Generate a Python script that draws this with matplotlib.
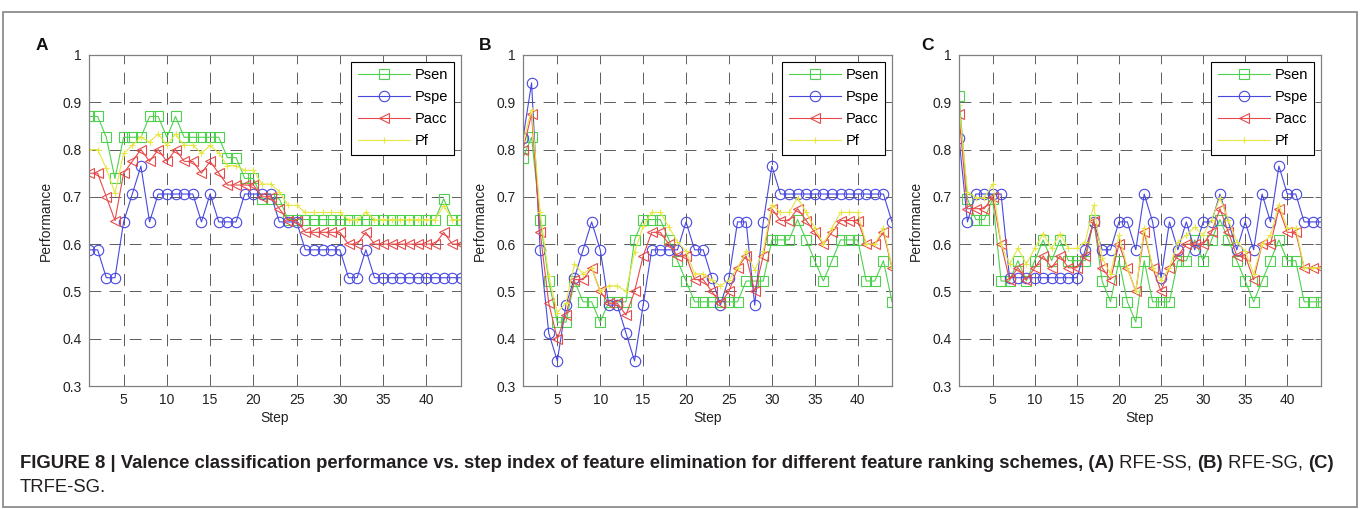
import matplotlib
matplotlib.use('Agg')
import matplotlib.pyplot as plt
from matplotlib.patches import Rectangle
from matplotlib import font_manager

# step index of feature elimination
steps = list(range(1, 45))

# (A) RFE-SS
psen_a = [0.870, 0.870, 0.826, 0.739, 0.826, 0.826, 0.826, 0.870, 0.870, 0.826,
          0.870, 0.826, 0.826, 0.826, 0.826, 0.826, 0.783, 0.783, 0.739, 0.739,
          0.696, 0.696, 0.696, 0.652, 0.652, 0.652, 0.652, 0.652, 0.652, 0.652,
          0.652, 0.652, 0.652, 0.652, 0.652, 0.652, 0.652, 0.652, 0.652, 0.652,
          0.652, 0.696, 0.652, 0.652]
pspe_a = [0.588, 0.588, 0.529, 0.529, 0.647, 0.706, 0.765, 0.647, 0.706, 0.706,
          0.706, 0.706, 0.706, 0.647, 0.706, 0.647, 0.647, 0.647, 0.706, 0.706,
          0.706, 0.706, 0.647, 0.647, 0.647, 0.588, 0.588, 0.588, 0.588, 0.588,
          0.529, 0.529, 0.588, 0.529, 0.529, 0.529, 0.529, 0.529, 0.529, 0.529,
          0.529, 0.529, 0.529, 0.529]
pacc_a = [0.750, 0.750, 0.700, 0.650, 0.750, 0.775, 0.800, 0.775, 0.800, 0.775,
          0.800, 0.775, 0.775, 0.750, 0.775, 0.750, 0.725, 0.725, 0.725, 0.725,
          0.700, 0.700, 0.675, 0.650, 0.650, 0.625, 0.625, 0.625, 0.625, 0.625,
          0.600, 0.600, 0.625, 0.600, 0.600, 0.600, 0.600, 0.600, 0.600, 0.600,
          0.600, 0.625, 0.600, 0.600]
pf_a = [0.800, 0.800, 0.760, 0.708, 0.792, 0.809, 0.826, 0.816, 0.833, 0.809,
        0.833, 0.809, 0.809, 0.792, 0.809, 0.792, 0.766, 0.766, 0.756, 0.756,
        0.727, 0.727, 0.711, 0.682, 0.682, 0.667, 0.667, 0.667, 0.667, 0.667,
        0.652, 0.652, 0.667, 0.652, 0.652, 0.652, 0.652, 0.652, 0.652, 0.652,
        0.652, 0.681, 0.652, 0.652]

# (B) RFE-SG
psen_b = [0.783, 0.826, 0.652, 0.522, 0.435, 0.435, 0.522, 0.478, 0.478, 0.435,
          0.478, 0.478, 0.478, 0.609, 0.652, 0.652, 0.652, 0.609, 0.565, 0.522,
          0.478, 0.478, 0.478, 0.478, 0.478, 0.478, 0.522, 0.522, 0.522, 0.609,
          0.609, 0.609, 0.652, 0.609, 0.565, 0.522, 0.565, 0.609, 0.609, 0.609,
          0.522, 0.522, 0.565, 0.478]
pspe_b = [0.824, 0.941, 0.588, 0.412, 0.353, 0.471, 0.529, 0.588, 0.647, 0.588,
          0.471, 0.471, 0.412, 0.353, 0.471, 0.588, 0.588, 0.588, 0.588, 0.647,
          0.588, 0.588, 0.529, 0.471, 0.529, 0.647, 0.647, 0.471, 0.647, 0.765,
          0.706, 0.706, 0.706, 0.706, 0.706, 0.706, 0.706, 0.706, 0.706, 0.706,
          0.706, 0.706, 0.706, 0.647]
pacc_b = [0.800, 0.875, 0.625, 0.475, 0.400, 0.450, 0.525, 0.525, 0.550, 0.500,
          0.475, 0.475, 0.450, 0.500, 0.575, 0.625, 0.625, 0.600, 0.575, 0.575,
          0.525, 0.525, 0.500, 0.475, 0.500, 0.550, 0.575, 0.500, 0.575, 0.675,
          0.650, 0.650, 0.675, 0.650, 0.625, 0.600, 0.625, 0.650, 0.650, 0.650,
          0.600, 0.600, 0.625, 0.550]
pf_b = [0.818, 0.884, 0.667, 0.533, 0.455, 0.476, 0.558, 0.537, 0.550, 0.500,
        0.512, 0.512, 0.500, 0.583, 0.638, 0.667, 0.667, 0.636, 0.605, 0.585,
        0.537, 0.537, 0.524, 0.512, 0.524, 0.550, 0.585, 0.545, 0.585, 0.683,
        0.667, 0.667, 0.698, 0.667, 0.634, 0.600, 0.634, 0.667, 0.667, 0.667,
        0.600, 0.600, 0.634, 0.550]

# (C) TRFE-SG
psen_c = [0.913, 0.696, 0.652, 0.652, 0.696, 0.522, 0.522, 0.565, 0.522, 0.565,
          0.609, 0.565, 0.609, 0.565, 0.565, 0.565, 0.652, 0.522, 0.478, 0.565,
          0.478, 0.435, 0.565, 0.478, 0.478, 0.478, 0.565, 0.565, 0.609, 0.565,
          0.609, 0.652, 0.609, 0.565, 0.522, 0.478, 0.522, 0.565, 0.609, 0.565,
          0.565, 0.478, 0.478, 0.478]
pspe_c = [0.824, 0.647, 0.706, 0.706, 0.706, 0.706, 0.529, 0.529, 0.529, 0.529,
          0.529, 0.529, 0.529, 0.529, 0.529, 0.588, 0.647, 0.588, 0.588, 0.647,
          0.647, 0.588, 0.706, 0.647, 0.529, 0.647, 0.588, 0.647, 0.588, 0.647,
          0.647, 0.706, 0.647, 0.588, 0.647, 0.588, 0.706, 0.647, 0.765, 0.706,
          0.706, 0.647, 0.647, 0.647]
pacc_c = [0.875, 0.675, 0.675, 0.675, 0.700, 0.600, 0.525, 0.550, 0.525, 0.550,
          0.575, 0.550, 0.575, 0.550, 0.550, 0.575, 0.650, 0.550, 0.525, 0.600,
          0.550, 0.500, 0.625, 0.550, 0.500, 0.550, 0.575, 0.600, 0.600, 0.600,
          0.625, 0.675, 0.625, 0.575, 0.575, 0.525, 0.600, 0.600, 0.675, 0.625,
          0.625, 0.550, 0.550, 0.550]
pf_c = [0.894, 0.711, 0.698, 0.698, 0.727, 0.600, 0.558, 0.591, 0.558, 0.591,
        0.622, 0.591, 0.622, 0.591, 0.591, 0.605, 0.682, 0.571, 0.537, 0.619,
        0.550, 0.500, 0.634, 0.550, 0.524, 0.550, 0.605, 0.619, 0.636, 0.619,
        0.651, 0.698, 0.651, 0.605, 0.585, 0.537, 0.600, 0.619, 0.683, 0.634,
        0.634, 0.550, 0.550, 0.550]

W, H = 1360, 509
names = [f.name for f in font_manager.fontManager.ttflist]
narrow = 'Liberation Sans Narrow' if 'Liberation Sans Narrow' in names else 'Liberation Sans'
plt.rcParams['font.family'] = ['Liberation Sans', 'DejaVu Sans']
plt.rcParams['lines.scale_dashes'] = False


def fx(px):
    return px / W


def fy(py):
    return 1 - py / H


fig = plt.figure(figsize=(W / 100, H / 100), dpi=100)
fig.patch.set_facecolor('white')

# gray frame round the whole figure
fig.patches.append(Rectangle((fx(3), fy(507)), fx(1354), (507 - 12) / H,
                             transform=fig.transFigure, fill=False,
                             edgecolor='#8c8c8c', linewidth=1.3))

panels = [
    ('A', 89, 461, 42, psen_a, pspe_a, pacc_a, pf_a),
    ('B', 523, 892, 485, psen_b, pspe_b, pacc_b, pf_b),
    ('C', 959, 1321, 928, psen_c, pspe_c, pacc_c, pf_c),
]

top, bottom = 55, 386
for letter, left, right, lx, psen, pspe, pacc, pf in panels:
    ax = fig.add_axes([fx(left), fy(bottom), (right - left) / W, (bottom - top) / H])
    ax.plot(steps, psen, color='#4ed24e', marker='s', mfc='none', ms=7, mew=0.8, lw=0.8, label='Psen')
    ax.plot(steps, pspe, color='#4848e0', marker='o', mfc='none', ms=7.5, mew=0.8, lw=0.8, label='Pspe')
    ax.plot(steps, pacc, color='#e84a4a', marker='<', mfc='none', ms=7.5, mew=0.8, lw=0.8, label='Pacc')
    ax.plot(steps, pf, color='#e6e645', marker='+', ms=5, mew=0.8, lw=0.8, label='Pf')

    ax.set_xlim(1, 44)
    ax.set_ylim(0.3, 1.0)
    ax.set_xticks([5, 10, 15, 20, 25, 30, 35, 40])
    ax.set_yticks([0.3, 0.4, 0.5, 0.6, 0.7, 0.8, 0.9, 1.0])
    ax.set_yticklabels(['0.3', '0.4', '0.5', '0.6', '0.7', '0.8', '0.9', '1'])
    ax.grid(True, linestyle=(0, (8.5, 6)), color='#5a5a5a', linewidth=0.7)
    ax.set_axisbelow(True)
    ax.tick_params(direction='in', length=4, width=0.7, top=True, right=True,
                   color='#666666', labelcolor='#222222', labelsize=10, pad=5)
    for sp in ax.spines.values():
        sp.set_color('#808080')
        sp.set_linewidth(0.9)
    ax.set_xlabel('Step', fontsize=10, color='#222222', labelpad=3)
    ax.set_ylabel('Performance', fontsize=10, color='#222222', labelpad=7)

    leg = ax.legend(loc='upper right', fancybox=False, edgecolor='black', framealpha=1,
                    fontsize=10.5, handlelength=3.6, borderaxespad=0.45,
                    labelspacing=0.55, handletextpad=0.3, borderpad=0.45)
    leg.get_frame().set_linewidth(0.8)

    fig.text(fx(lx), fy(46), letter, fontsize=12.5, fontweight='bold',
             family=[narrow, 'DejaVu Sans'], ha='center', va='center', color='#111111')

# caption with bold and normal parts
line1 = [
    ('FIGURE 8 | Valence classification performance vs. step index of feature elimination '
     'for different feature ranking schemes, (A)', 'bold'),
    (' RFE-SS, ', 'normal'),
    ('(B)', 'bold'),
    (' RFE-SG, ', 'normal'),
    ('(C)', 'bold'),
]
line2 = [('TRFE-SG.', 'normal')]

renderer = fig.canvas.get_renderer()


def draw_line(parts, x0, y, size):
    x = x0
    made = []
    for s, w in parts:
        t = fig.text(fx(x), fy(y), s, fontsize=size, fontweight=w, family=[narrow, 'DejaVu Sans'],
                     ha='left', va='center', color='#231f20')
        bb = t.get_window_extent(renderer)
        x = bb.x1
        made.append(t)
    return made, x - x0


size = 10.5
made, width = draw_line(line1, 20, 463, size)
for t in made:
    t.remove()
size = size * 1322 / width
draw_line(line1, 20, 463, size)
draw_line(line2, 20, 487, size)

fig.savefig('out.png', dpi=100)
